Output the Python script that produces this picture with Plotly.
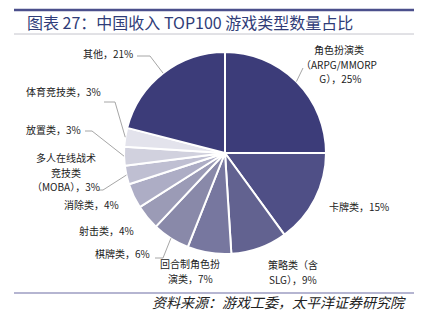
import math
import plotly.graph_objects as go

categories = ["角色扮演类（ARPG/MMORPG）", "卡牌类", "策略类（含SLG）", "回合制角色扮演类", "棋牌类",
              "射击类", "消除类", "多人在线战术竞技类（MOBA）", "放置类", "体育竞技类", "其他"]
values = [25, 15, 9, 7, 6, 4, 4, 3, 3, 3, 21]
label_lines = [["角色扮演类", "（ARPG/MMORP", " G），25%"], ["卡牌类，15%"], ["策略类（含", "SLG），9%"],
               ["回合制角色扮", "演类，7%"], ["棋牌类，6%"], ["射击类，4%"], ["消除类，4%"],
               ["多人在线战术", "竞技类", "（MOBA），3%"], ["放置类，3%"], ["体育竞技类，3%"], ["其他，21%"]]
colors = ["#3c3c79", "#4f4f86", "#626290", "#77779f", "#8989a9", "#9b9bb6", "#adadc5",
          "#bfbfd2", "#d1d1de", "#e3e3ec", "#3c3c79"]

W, H = 425, 324
cx, cy, R = 225, 153, 101
LINE_H = 14.5

# label placement (pixel): x, y of block centre, anchor ; elbow points for leader lines
label_pos = [(339, 64, "center"), (327, 207, "left"), (293, 272, "center"), (190, 271, "center"),
             (152, 253, "right"), (136, 230, "right"), (121, 204, "right"), (66, 172, "center"),
             (83, 129, "right"), (103, 92, "right"), (135, 54, "right")]
elbows = [[(303, 68)], None, None, None, [(163, 258), (155, 258)], None, None,
          [(103, 190), (99, 190)], [(92, 131), (85, 131)], [(115, 102), (104, 102)],
          [(150, 56), (137, 56)]]

fig = go.Figure(go.Pie(
    labels=categories, values=values, sort=False, direction="clockwise", rotation=0,
    marker=dict(colors=colors, line=dict(color="white", width=2)),
    textinfo="none", hoverinfo="label+percent", showlegend=False,
    domain=dict(x=[(cx - R) / W, (cx + R) / W], y=[(H - cy - R) / H, (H - cy + R) / H]),
))

def px(x):
    return x / W

def py(y):
    return 1 - y / H

annotations = []
shapes = []
total = sum(values)
cum = 0
for i, v in enumerate(values):
    mid = (cum + v / 2) / total * 2 * math.pi
    cum += v
    ex, ey = cx + R * math.sin(mid), cy - R * math.cos(mid)
    lx, ly, anc = label_pos[i]
    lines = label_lines[i]
    n = len(lines)
    for k, t in enumerate(lines):
        yy = ly + (k - (n - 1) / 2) * LINE_H
        annotations.append(dict(x=px(lx), y=py(yy), xref="paper", yref="paper", text=t,
                                showarrow=False, xanchor=anc, yanchor="middle", align="center",
                                font=dict(size=10, color="#222222", family="Noto Sans CJK SC")))
    if elbows[i]:
        pts = [(ex, ey)] + elbows[i]
        path = "M " + " L ".join(f"{px(a)},{py(b)}" for a, b in pts)
        shapes.append(dict(type="path", path=path, xref="paper", yref="paper",
                           line=dict(color="#a6a6a6", width=1)))

# title and rules
shapes.append(dict(type="line", xref="paper", yref="paper", x0=px(14), x1=px(414), y0=py(10), y1=py(10),
                   line=dict(color="#4b4f8c", width=2.5)))
shapes.append(dict(type="line", xref="paper", yref="paper", x0=px(14), x1=px(414), y0=py(34), y1=py(34),
                   line=dict(color="#c4c4cc", width=1)))
shapes.append(dict(type="line", xref="paper", yref="paper", x0=px(14), x1=px(414), y0=py(293), y1=py(293),
                   line=dict(color="#9c9cc2", width=1.5)))
annotations.append(dict(x=px(25), y=py(22), xref="paper", yref="paper", xanchor="left", yanchor="middle",
                        text="图表 27：中国收入 TOP100 游戏类型数量占比", showarrow=False,
                        font=dict(size=16, color="#2f3c78", family="Noto Sans CJK SC")))
annotations.append(dict(x=px(408), y=py(302), xref="paper", yref="paper", xanchor="right", yanchor="middle",
                        text="<i>资料来源：游戏工委，太平洋证券研究院</i>", showarrow=False,
                        font=dict(size=14, color="#222222", family="Noto Sans CJK SC")))

fig.update_layout(width=W, height=H, margin=dict(l=0, r=0, t=0, b=0),
                  paper_bgcolor="white", plot_bgcolor="white",
                  annotations=annotations, shapes=shapes)
fig.write_html("out.html")
